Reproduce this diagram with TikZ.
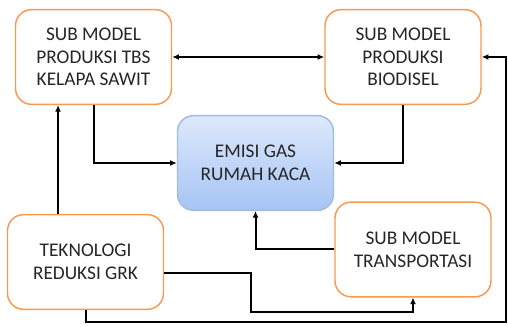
\documentclass[tikz,border=0pt]{standalone}
\usepackage{fontspec}
\setmainfont{Carlito}
\usepackage{xcolor}
\usepackage{tikz}
\usetikzlibrary{arrows.meta}
\definecolor{subor}{HTML}{F79A50}
\definecolor{emitop}{HTML}{DDE9FC}
\definecolor{emibot}{HTML}{A6C4F4}
\definecolor{emiline}{HTML}{A3BBDD}
\definecolor{txt}{HTML}{262626}

\begin{document}
\begin{tikzpicture}[x=0.75pt,y=-0.75pt,>={Latex[length=5pt,width=4.5pt]},line width=1.5pt,
	main node/.style={rectangle, rounded corners=12pt, draw=subor, line width=1.1pt, fill=white, text=txt, align=center, minimum width=117pt, minimum height=71pt, inner sep=0pt, font=\fontsize{14.5}{17}\selectfont},
	gas node/.style={main node, draw=emiline, top color=emitop, bottom color=emibot}]
			\useasboundingbox (0,0) rectangle (508,327);
			% Nodes
			\node[main node] (1) at (93.5,57) {SUB MODEL\\PRODUKSI TBS\\KELAPA SAWIT};
			\node[main node] (2) at (403,57) {SUB MODEL\\PRODUKSI\\BIODISEL};
			\node[gas node] (3) at (255.5,163) {EMISI GAS\\RUMAH KACA};
			\node[main node] (4) at (85.5,262) {TEKNOLOGI\\REDUKSI GRK};
			\node[main node] (5) at (413,249.5) {SUB MODEL\\TRANSPORTASI};
			\coordinate (c) at (505.5,322);
			
			% Connectors
			\draw[<->] (1) -- (2);
			\draw[->] (4.south) |- (c) |- (2.east);
			\draw[->] ([xshift=-20.6pt]4.north) -- ([xshift=-20.6pt]4.north |- 1.south);
			\draw[->] (1.south) |- (3.west);
			\draw[->] (2.south) |- (3.east);
			\draw[->] (5.west) -| (3.south);
			\draw[->] ([yshift=-8.25pt]4.east) -- ++(87,0) -- ++(0,39) -| (5.south);
			
		\end{tikzpicture}
\end{document}
